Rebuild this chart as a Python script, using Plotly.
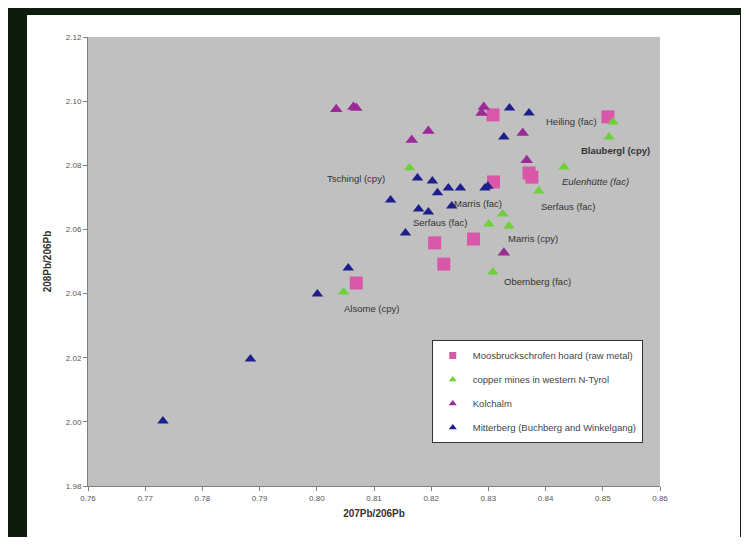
import plotly.graph_objects as go

# Moosbruckschrofen hoard (raw metal)
moos_x = [0.8308, 0.8509, 0.8309, 0.8371, 0.8376, 0.8274, 0.8206, 0.8222, 0.8069]
moos_y = [2.0957, 2.0951, 2.0748, 2.0776, 2.0763, 2.0570, 2.0558, 2.0492, 2.0433]

# copper mines in western N-Tyrol
cu_x = [0.8518, 0.8511, 0.8432, 0.8388, 0.8162, 0.8325, 0.8301, 0.8336, 0.8308, 0.8047]
cu_y = [2.0935, 2.0888, 2.0795, 2.0720, 2.0792, 2.0648, 2.0617, 2.0611, 2.0467, 2.0405]

# Kolchalm
kol_x = [0.8034, 0.8064, 0.8069, 0.8166, 0.8195, 0.8292, 0.8288, 0.8360, 0.8367, 0.8327]
kol_y = [2.0975, 2.0982, 2.0979, 2.0879, 2.0907, 2.0982, 2.0963, 2.0901, 2.0816, 2.0527]

# Mitterberg (Buchberg and Winkelgang)
mit_x = [0.8176, 0.8202, 0.8211, 0.8230, 0.8251, 0.8294, 0.8299, 0.8129, 0.8178, 0.8195,
         0.8236, 0.8155, 0.8337, 0.8371, 0.8327, 0.8055, 0.8001, 0.7884, 0.7731]
mit_y = [2.0760, 2.0751, 2.0714, 2.0729, 2.0729, 2.0729, 2.0735, 2.0692, 2.0664, 2.0654,
         2.0673, 2.0589, 2.0979, 2.0963, 2.0888, 2.0480, 2.0399, 2.0196, 2.0003]

series_names = ["Moosbruckschrofen hoard (raw metal)", "copper mines in western N-Tyrol",
                "Kolchalm", "Mitterberg (Buchberg and Winkelgang)"]

# site labels
lab_text = ["Heiling (fac)", "<b>Blaubergl (cpy)</b>", "<i>Eulenhütte (fac)</i>", "Serfaus (fac)",
            "Tschingl (cpy)", "Marris (fac)", "Serfaus (fac)", "Marris (cpy)",
            "Obernberg (fac)", "Alsome (cpy)"]
lab_x = [0.8446, 0.8523, 0.8488, 0.8439, 0.8068, 0.8281, 0.8216, 0.8378, 0.8386, 0.8096]
lab_y = [2.0938, 2.0845, 2.0748, 2.0673, 2.0760, 2.0682, 2.0623, 2.0573, 2.0439, 2.0355]

x_ticks = [0.76, 0.77, 0.78, 0.79, 0.80, 0.81, 0.82, 0.83, 0.84, 0.85, 0.86]
y_ticks = [1.98, 2.00, 2.02, 2.04, 2.06, 2.08, 2.10, 2.12]

styles = [
    dict(symbol="square", size=13, color="#D957A8"),
    dict(symbol="triangle-up", size=10, color="#6FD13A"),
    dict(symbol="triangle-up", size=11, color="#9B2A96"),
    dict(symbol="triangle-up", size=10, color="#1E1E8C"),
]
legend_sizes = [7, 7, 7, 7]

fig = go.Figure()
for (xs, ys), name, st, ls, g in zip([(moos_x, moos_y), (cu_x, cu_y), (kol_x, kol_y), (mit_x, mit_y)],
                                     series_names, styles, legend_sizes, "abcd"):
    fig.add_trace(go.Scatter(x=xs, y=ys, mode="markers", name=name, legendgroup=g,
                             showlegend=False, marker=st))
    fig.add_trace(go.Scatter(x=[None], y=[None], mode="markers", name=name, legendgroup=g,
                             showlegend=True, marker=dict(symbol=st["symbol"], size=ls, color=st["color"])))

for t, x, y in zip(lab_text, lab_x, lab_y):
    fig.add_annotation(x=x, y=y, text=t, showarrow=False, xref="x", yref="y",
                       font=dict(family="Arial, Liberation Sans", size=9.5, color="#333333"))

fig.update_layout(
    width=733, height=529,
    margin=dict(l=80, r=81, t=29, b=51),
    paper_bgcolor="#0E1C0E",
    plot_bgcolor="#C0C0C0",
    font=dict(family="Arial, Liberation Sans", color="#444444"),
    shapes=[
        dict(type="rect", xref="paper", yref="paper", x0=-0.1066, x1=1.1399, y0=-0.125, y1=1.049,
             fillcolor="white", line=dict(width=0), layer="below"),
        dict(type="rect", xref="paper", yref="paper", x0=0, x1=1, y0=0, y1=1,
             fillcolor="#C0C0C0", line=dict(width=0), layer="below"),
    ],
    legend=dict(x=0.601, y=0.325, xanchor="left", yanchor="top",
                bgcolor="white", bordercolor="#333333", borderwidth=1,
                font=dict(size=9.5, color="#444444"), tracegroupgap=5,
                itemwidth=30),
    showlegend=True,
)
fig.update_xaxes(range=[0.76, 0.86], tickvals=x_ticks, tickformat=".2f",
                 showgrid=False, zeroline=False, showline=True, linecolor="#808080",
                 ticks="outside", ticklen=4, tickcolor="#808080",
                 tickfont=dict(size=8, color="#555555"),
                 title=dict(text="<b>207Pb/206Pb</b>", font=dict(size=10, color="#333333"), standoff=8))
fig.update_yaxes(range=[1.98, 2.12], tickvals=y_ticks, tickformat=".2f",
                 showgrid=False, zeroline=False, showline=True, linecolor="#808080",
                 ticks="outside", ticklen=4, tickcolor="#808080",
                 tickfont=dict(size=8, color="#555555"),
                 title=dict(text="<b>208Pb/206Pb</b>", font=dict(size=10, color="#333333"), standoff=12))

fig.write_html("out.html")
